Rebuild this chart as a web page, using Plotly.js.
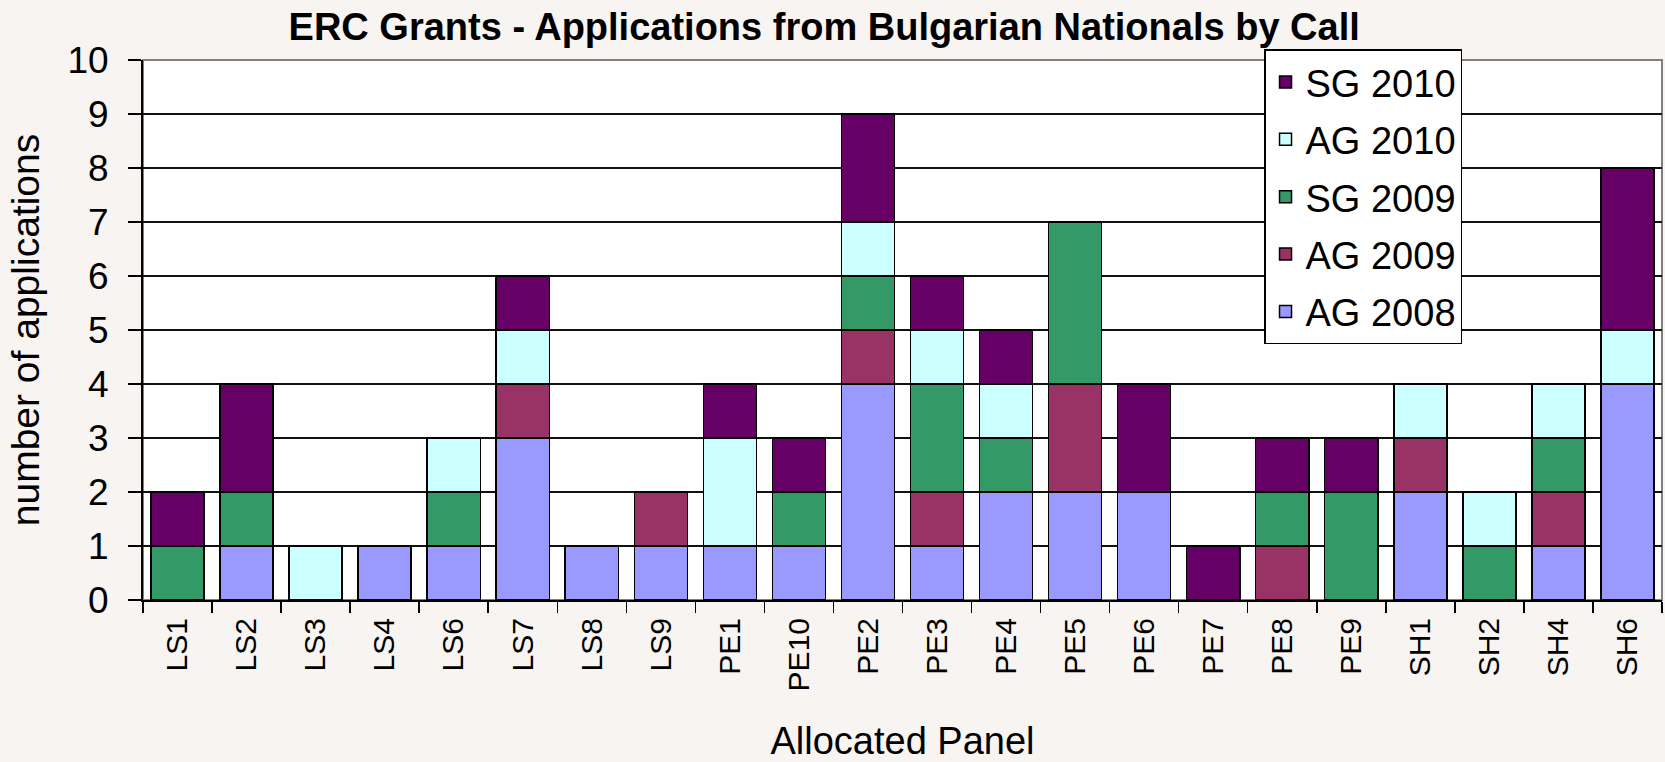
<!DOCTYPE html>
<html>
<head>
<meta charset="utf-8">
<script src="https://cdn.plot.ly/plotly-3.0.1.min.js"></script>
<style>html,body{margin:0;padding:0;background:#f7f4f2;}#chart{width:1665px;height:762px;}</style>
</head>
<body>
<div id="chart"></div>
<script>
const panels = ["LS1","LS2","LS3","LS4","LS6","LS7","LS8","LS9","PE1","PE10","PE2","PE3","PE4","PE5","PE6","PE7","PE8","PE9","SH1","SH2","SH4","SH6"];
const ag2008 = [0,1,0,1,1,3,1,1,1,1,4,1,2,2,2,0,0,0,2,0,1,4];
const ag2009 = [0,0,0,0,0,1,0,1,0,0,1,1,0,2,0,0,1,0,1,0,1,0];
const sg2009 = [1,1,0,0,1,0,0,0,0,1,1,2,1,3,0,0,1,2,0,1,1,0];
const ag2010 = [0,0,1,0,1,1,0,0,2,0,1,1,1,0,0,0,0,0,1,1,1,1];
const sg2010 = [1,2,0,0,0,1,0,0,1,1,2,1,1,0,2,1,1,1,0,0,0,3];
const seriesNames = ["AG 2008","AG 2009","SG 2009","AG 2010","SG 2010"];
const seriesValues = [ag2008, ag2009, sg2009, ag2010, sg2010];
const colors = ["#9999ff","#993366","#339966","#ccffff","#660066"];
const yTicks = [0,1,2,3,4,5,6,7,8,9,10];

const FONT = "Liberation Sans, Arial, sans-serif";
const traces = seriesNames.map((n,i)=>({
  type:"bar", name:n, x:panels, y:seriesValues[i], legendgroup:"g"+i, legendrank:100-i,
  marker:{color:colors[i], line:{color:"#000", width:1.5}},
  hoverinfo:"x+y+name"
}));

const layout = {
  width:1665, height:762,
  paper_bgcolor:"#f7f4f2", plot_bgcolor:"#ffffff",
  margin:{l:143, r:3, t:60, b:162},
  barmode:"stack", bargap:0.23,
  font:{family:FONT, color:"#000"},
  title:{text:"<b>ERC Grants - Applications from Bulgarian Nationals by Call</b>", font:{family:FONT, size:38, color:"#000"},
    x:0.495, xref:"container", xanchor:"center", y:0.965, yref:"container", yanchor:"middle"},
  xaxis:{type:"category", tickson:"boundaries", ticks:"outside", ticklen:11, tickwidth:1.5, tickcolor:"#000",
    tickangle:-90, tickfont:{size:30, family:FONT}, ticklabelstandoff:4, showgrid:false, showline:true, linecolor:"#000", linewidth:2,
    title:{text:"Allocated Panel", font:{size:38, family:FONT}, standoff:44}},
  yaxis:{range:[0,10], tickmode:"array", tickvals:yTicks, ticktext:yTicks.map(String), ticks:"outside", ticklen:13, tickwidth:1.5, tickcolor:"#000",
    tickfont:{size:37, family:FONT}, ticklabelstandoff:12, showgrid:true, gridcolor:"#111", gridwidth:1.5, zeroline:false,
    showline:true, linecolor:"#000", linewidth:2,
    title:{text:"number of applications", font:{size:39, family:FONT}, standoff:16}},
  legend:{x:0.738, xanchor:"left", y:1.02, yanchor:"top", traceorder:"grouped", tracegroupgap:5,
    bgcolor:"#ffffff", bordercolor:"#000", borderwidth:1.5, font:{size:38, family:FONT}},
  shapes:[{type:"rect", xref:"paper", yref:"paper", x0:0, x1:1, y0:0, y1:1, layer:"below", line:{color:"#808080", width:2}}]
};
Plotly.newPlot("chart", traces, layout, {displayModeBar:false, staticPlot:true});
</script>
</body>
</html>
